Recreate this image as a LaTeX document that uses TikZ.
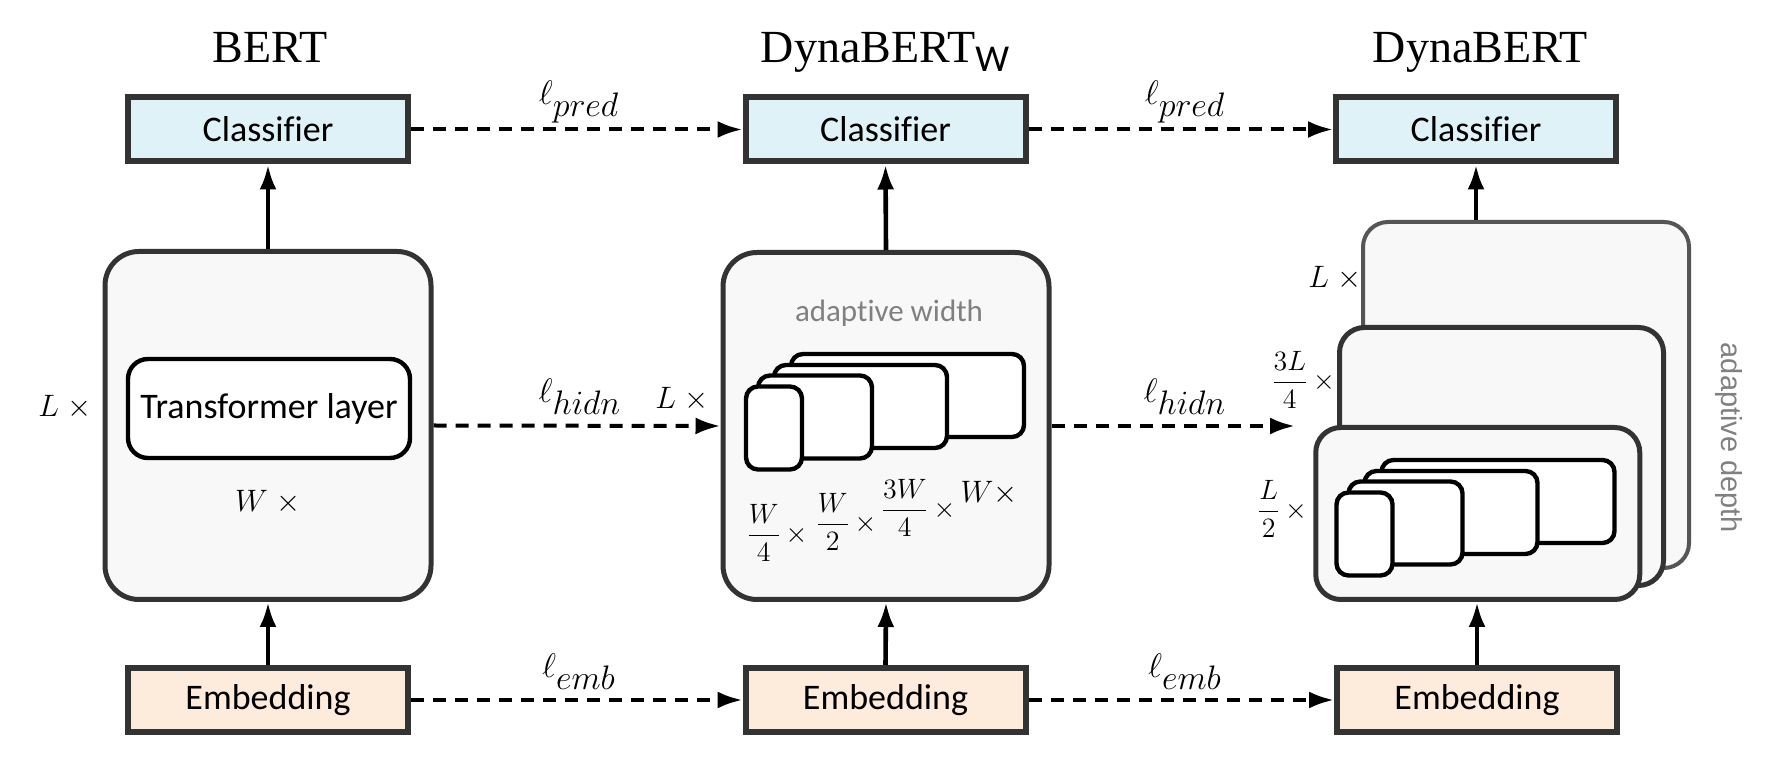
\RequirePackage{fix-cm}
\documentclass[tikz,border=0pt]{standalone}
\usepackage{amsmath}
\usepackage{fontspec}
\usetikzlibrary{arrows.meta}
\newfontfamily\carlito[Ligatures=NoCommon]{Carlito}
\newfontfamily\serifT{Liberation Serif}
\newfontfamily\arialT{Liberation Sans}
\definecolor{dark}{HTML}{333333}
\definecolor{backedge}{HTML}{555555}
\definecolor{boxfill}{HTML}{F8F8F8}
\definecolor{clsfill}{HTML}{DFF2F8}
\definecolor{embfill}{HTML}{FDEBDC}
\definecolor{graytxt}{HTML}{808080}
\begin{document}
\begin{tikzpicture}[x=0.5pt,y=-0.5pt,
  cls/.style={draw=dark, line width=3pt, fill=clsfill, minimum width=140pt, minimum height=32pt, inner sep=0pt, font=\carlito\fontsize{18}{20}\selectfont},
  embs/.style={cls, fill=embfill},
  big/.style={draw=dark, line width=2.5pt, fill=boxfill, rounded corners=17pt, inner sep=0pt},
  deep/.style={draw=dark, line width=2.5pt, fill=boxfill, rounded corners=12.5pt, inner sep=0pt, minimum width=162pt},
  wbox/.style={draw=black, line width=2.2pt, fill=white, rounded corners=6pt, inner sep=0pt, minimum height=41.5pt},
  dsh/.style={line width=2pt, dash pattern=on 6.5pt off 4.5pt, -{Latex[length=12.5pt,width=8.5pt]}},
  arr/.style={line width=2.3pt, -{Latex[length=12.5pt,width=8.5pt]}},
  ttl/.style={anchor=base, font=\serifT\fontsize{23}{26}\selectfont},
  loss/.style={anchor=base, font=\fontsize{17}{19}\selectfont},
  mth/.style={font=\fontsize{15.5}{17}\selectfont, inner sep=0pt},
  frc/.style={font=\fontsize{14}{16}\selectfont, inner sep=0pt},
  grey/.style={text=graytxt, inner sep=0pt}
]
\useasboundingbox (0,0) rectangle (1782,763);

% titles
\node[ttl] (t1) at (270,63) {BERT};
\node[ttl] (t2) at (885,63) {DynaBERT\raisebox{-4.5pt}{\carlito\fontsize{19}{20}\selectfont W}};
\node[ttl] (t3) at (1480,63) {DynaBERT};

% classifiers
\node[cls] (cls1) at (268,129.5) {Classifier};
\node[cls] (cls2) at (885.5,129.5) {Classifier};
\node[cls] (cls3) at (1476,129.5) {Classifier};

% embeddings
\node[embs] (emb1) at (268,700) {Embedding};
\node[embs] (emb2) at (885.5,700) {Embedding};
\node[embs] (emb3) at (1477,700) {Embedding};

% BERT body
\node[big, minimum width=163pt, minimum height=174pt] (big1) at (268,425.5) {};
\node[draw=black, line width=2.2pt, rounded corners=10pt, fill=white, minimum width=141pt, minimum height=49.5pt, inner sep=0pt, font=\carlito\fontsize{18}{20}\selectfont] (tl) at (269,408.5) {Transformer layer};
\node[mth] (wx1) at (268,502) {$W\;\times$};
\node[mth] (lx1) at (65,407) {$L\;\times$};

% DynaBERT_W body
\node[big, minimum width=163pt, minimum height=173.5pt] (big2) at (886,426) {};
\node[grey, font=\carlito\fontsize{15.5}{17}\selectfont] (aw) at (889,313) {adaptive width};
\node[wbox, minimum width=116.5pt] (m4) at (907.5,395.5) {};
\node[wbox, minimum width=86.5pt] (m3) at (860.5,406.5) {};
\node[wbox, minimum width=57pt] (m2) at (815,417) {};
\node[wbox, minimum width=28pt] (m1) at (774,428) {};
\node[frc] (f1) at (777,533) {$\dfrac{W}{4}\,\times$};
\node[frc] (f2) at (846,522) {$\dfrac{W}{2}\,\times$};
\node[frc] (f3) at (918,508) {$\dfrac{3W}{4}\,\times$};
\node[mth] (wx2) at (989,493) {$W\times$};
\node[mth] (lx2) at (682,399) {$L\;\times$};

% DynaBERT body
\node[deep, draw=backedge, line width=2pt, minimum height=173pt, minimum width=163pt] (dback) at (1526,395) {};
\node[deep, minimum height=129pt] (dmid) at (1501.5,456.5) {};
\node[deep, minimum height=86pt] (dfront) at (1477.75,513.5) {};
\node[wbox, minimum width=116.5pt] (r4) at (1498,501.5) {};
\node[wbox, minimum width=86.5pt] (r3) at (1451,512.5) {};
\node[wbox, minimum width=57pt] (r2) at (1405.5,523) {};
\node[wbox, minimum width=28pt] (r1) at (1364.5,534) {};
\node[mth] (lx3) at (1335,278) {$L\;\times$};
\node[frc] (f4) at (1303,380) {$\dfrac{3L}{4}\,\times$};
\node[frc] (f5) at (1282,509) {$\dfrac{L}{2}\,\times$};
\node[grey, rotate=-90, font=\arialT\fontsize{14.5}{16}\selectfont] (ad) at (1729,438) {adaptive depth};

% loss labels
\node[loss] (lp1) at (579,105) {$\ell_{\textstyle pred}$};
\node[loss] (lp2) at (1185,105) {$\ell_{\textstyle pred}$};
\node[loss] (lh1) at (580,403) {$\ell_{\textstyle hidn}$};
\node[loss] (lh2) at (1185,403) {$\ell_{\textstyle hidn}$};
\node[loss] (le1) at (579,678) {$\ell_{\textstyle emb}$};
\node[loss] (le2) at (1185,678) {$\ell_{\textstyle emb}$};

\coordinate (hend) at (1295,426);

% vertical arrows
\draw[arr] (emb1.north) -- (big1.south);
\draw[arr] (big1.north) -- (cls1.south);
\draw[arr] (emb2.north) -- (big2.south);
\draw[arr] (big2.north) -- (cls2.south);
\draw[arr] (emb3.north) -- (emb3.north |- dfront.south);
\draw[arr] (cls3.south |- dback.north) -- (cls3.south);

% dashed distillation arrows
\draw[dsh] (cls1.east) -- (cls2.west);
\draw[dsh] (cls2.east) -- (cls3.west);
\draw[dsh] (big1.east) -- (big2.west);
\draw[dsh] (big2.east) -- (hend);
\draw[dsh] (emb1.east) -- (emb2.west);
\draw[dsh] (emb2.east) -- (emb3.west);
\end{tikzpicture}
\end{document}
